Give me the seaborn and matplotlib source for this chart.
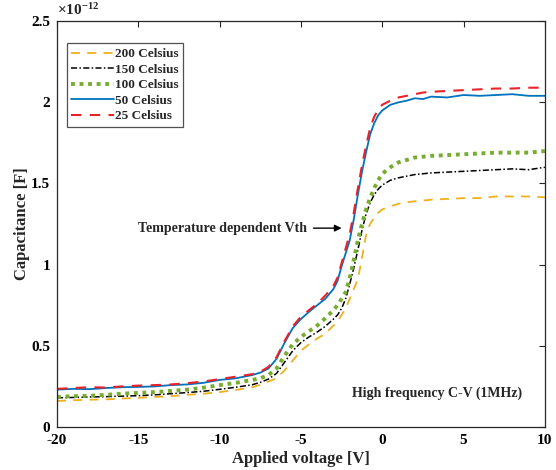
import matplotlib
matplotlib.use("Agg")
import matplotlib.pyplot as plt
import seaborn as sns
import pandas as pd

voltage = [-20, -19, -18, -17, -16, -15, -14, -13, -12, -11, -10, -9, -8,
           -7.5, -7, -6.5, -6, -5.5, -5, -4.5, -4, -3.5, -3,
           -2.75, -2.5, -2.25, -2, -1.75, -1.5, -1.25, -1, -0.75, -0.5, -0.25, 0,
           0.5, 1, 1.5, 2, 2.5, 3, 4, 5, 6, 7, 8, 9, 10]

# capacitance in units of 1e-12 F
cap_200 = [0.160, 0.165, 0.168, 0.170, 0.175, 0.180, 0.185, 0.190, 0.198, 0.205, 0.215, 0.228, 0.245,
           0.260, 0.280, 0.300, 0.350, 0.410, 0.470, 0.510, 0.545, 0.575, 0.625,
           0.650, 0.690, 0.730, 0.790, 0.850, 0.910, 1.040, 1.180, 1.250, 1.290, 1.320, 1.340,
           1.360, 1.375, 1.385, 1.390, 1.395, 1.400, 1.405, 1.410, 1.410, 1.420, 1.420, 1.420, 1.415]
cap_150 = [0.180, 0.182, 0.185, 0.187, 0.190, 0.193, 0.198, 0.205, 0.212, 0.220, 0.232, 0.245, 0.260,
           0.275, 0.295, 0.330, 0.400, 0.470, 0.520, 0.555, 0.585, 0.620, 0.665,
           0.690, 0.730, 0.790, 0.880, 0.980, 1.090, 1.210, 1.310, 1.380, 1.430, 1.465, 1.490,
           1.520, 1.535, 1.545, 1.555, 1.560, 1.565, 1.570, 1.575, 1.580, 1.585, 1.590, 1.585, 1.600]
cap_100 = [0.185, 0.190, 0.192, 0.198, 0.205, 0.210, 0.215, 0.222, 0.230, 0.242, 0.258, 0.272, 0.290,
           0.300, 0.320, 0.360, 0.440, 0.510, 0.555, 0.590, 0.625, 0.670, 0.720,
           0.750, 0.790, 0.830, 0.920, 1.030, 1.150, 1.250, 1.340, 1.410, 1.470, 1.520, 1.560,
           1.600, 1.630, 1.645, 1.660, 1.665, 1.670, 1.675, 1.680, 1.685, 1.690, 1.690, 1.690, 1.700]
cap_50 = [0.230, 0.235, 0.233, 0.240, 0.245, 0.247, 0.250, 0.258, 0.262, 0.272, 0.290, 0.300, 0.320,
          0.335, 0.360, 0.420, 0.520, 0.610, 0.665, 0.710, 0.750, 0.790, 0.850,
          0.900, 0.990, 1.070, 1.150, 1.280, 1.430, 1.570, 1.690, 1.800, 1.870, 1.920, 1.950,
          1.985, 2.000, 2.010, 2.025, 2.020, 2.035, 2.030, 2.045, 2.040, 2.045, 2.050, 2.040, 2.040]
cap_25 = [0.235, 0.240, 0.245, 0.243, 0.250, 0.255, 0.258, 0.262, 0.270, 0.280, 0.295, 0.310, 0.325,
          0.340, 0.370, 0.430, 0.530, 0.620, 0.680, 0.720, 0.760, 0.810, 0.870,
          0.920, 1.010, 1.100, 1.190, 1.320, 1.470, 1.610, 1.730, 1.840, 1.910, 1.955, 1.985,
          2.010, 2.030, 2.040, 2.050, 2.060, 2.065, 2.070, 2.075, 2.080, 2.085, 2.085, 2.090, 2.090]

labels = ["200 Celsius", "150 Celsius", "100 Celsius", "50 Celsius", "25 Celsius"]
series = [cap_200, cap_150, cap_100, cap_50, cap_25]
colors = ["#EDB120", "#000000", "#77AC30", "#0072BD", "#E8222A"]
styles = [dict(linestyle=(0, (5, 4)), linewidth=1.3),
          dict(linestyle=(0, (4, 1.5, 1, 1.5)), linewidth=1.1),
          dict(linestyle=(0, (1, 1.2)), linewidth=2.8),
          dict(linestyle="-", linewidth=1.3),
          dict(linestyle=(0, (5, 4)), linewidth=1.5)]

sns.set_style("white")
plt.rcParams["font.family"] = ["Liberation Serif", "DejaVu Serif"]
plt.rcParams["font.weight"] = "bold"
plt.rcParams["mathtext.fontset"] = "custom"
plt.rcParams["mathtext.rm"] = "Liberation Serif:bold"
plt.rcParams["mathtext.bf"] = "Liberation Serif:bold"

fig = plt.figure(figsize=(5.56, 4.70), dpi=100)
ax = fig.add_axes([0.1025, 0.0915, 0.8775, 0.8635])

for lab, vals, col, st in zip(labels, series, colors, styles):
    df = pd.DataFrame({"V": voltage, "C": vals})
    sns.lineplot(data=df, x="V", y="C", ax=ax, color=col, label=lab, **st)

ax.set_xlim(-20, 10)
ax.set_ylim(0, 2.5)
ax.set_xticks([-20, -15, -10, -5, 0, 5, 10])
ax.set_yticks([0, 0.5, 1, 1.5, 2, 2.5])
ax.set_xticklabels(["-20", "-15", "-10", "-5", "0", "5", "10"])
ax.set_yticklabels(["0", "0.5", "1", "1.5", "2", "2.5"])
ax.tick_params(direction="in", top=True, right=True, length=4, width=0.8,
               labelsize=11, colors="#262626", labelcolor="black", pad=5)
for s in ax.spines.values():
    s.set_color("#262626")
    s.set_linewidth(0.9)

ax.set_xlabel("Applied voltage [V]", fontsize=12, fontweight="bold", labelpad=3)
ax.set_ylabel("Capacitance [F]", fontsize=12, fontweight="bold", labelpad=1)

ax.text(0.0, 1.008, r"$\times\mathbf{10^{-12}}$", transform=ax.transAxes,
        fontsize=11, ha="left", va="bottom")

leg = ax.legend(loc="upper left", bbox_to_anchor=(0.012, 0.955), frameon=True,
                fancybox=False, edgecolor="#262626", fontsize=9.5,
                handlelength=3.2, handletextpad=0.1, borderpad=0.35,
                labelspacing=0.25, borderaxespad=0.3)
leg.get_frame().set_linewidth(0.9)
for t in leg.get_texts():
    t.set_fontweight("bold")

ax.annotate("Temperature dependent Vth", xy=(-2.5, 1.225), xytext=(-4.6, 1.225),
            ha="right", va="center", fontsize=10, fontweight="bold",
            arrowprops=dict(arrowstyle="-|>", color="black", lw=1.0,
                            mutation_scale=10, shrinkA=2, shrinkB=0))

ax.text(-1.85, 0.21, "High frequency C-V (1MHz)", fontsize=10, fontweight="bold",
        ha="left", va="center")

fig.savefig("out.png", dpi=100)
